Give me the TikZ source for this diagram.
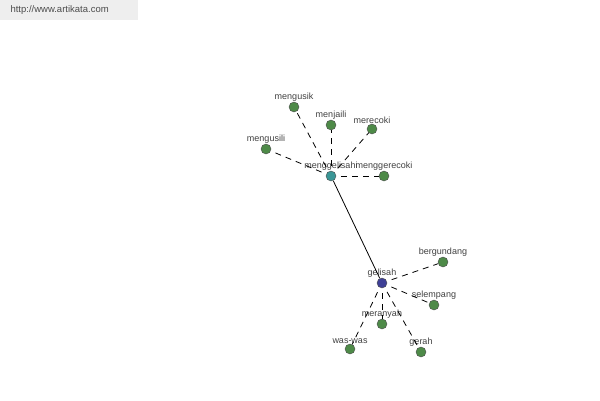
\documentclass[tikz,border=0pt]{standalone}
\usepackage{fontspec}
\setmainfont{Liberation Sans}
\usetikzlibrary{positioning}
\definecolor{leafgreen}{RGB}{78,138,72}
\definecolor{hubteal}{RGB}{58,150,150}
\definecolor{hubblue}{RGB}{62,64,150}
\definecolor{boxgray}{RGB}{238,238,238}

\begin{document}
\begin{tikzpicture}[x=1pt,y=-1pt,
  word/.style={circle,draw=black!70,fill=leafgreen,minimum size=10pt,inner sep=0pt,
    label distance=0pt,label={[font=\fontsize{9}{10}\selectfont,text=black!75,inner sep=0pt]above:#1}},
  hub/.style={word=#1,fill=hubteal},
  root/.style={word=#1,fill=hubblue},
  link/.style={dash pattern=on 6pt off 5pt,line width=0.8pt,shorten <=5pt}]
  \useasboundingbox (0,0) rectangle (600,400);
  \fill[boxgray] (0,0) rectangle (138,20);
  \node[anchor=west,text=black!70,font=\fontsize{9.5}{10}\selectfont] (site) at (7,10) {http://www.artikata.com};

  \node[hub=menggelisahi] (menggelisahi) at (331,176) {};
  \node[word=mengusik] (mengusik) at (294,107) {};
  \node[word=menjaili] (menjaili) at (331,125) {};
  \node[word=merecoki] (merecoki) at (372,129) {};
  \node[word=mengusili] (mengusili) at (266,149) {};
  \node[word=menggerecoki] (menggerecoki) at (384,176) {};

  \node[root=gelisah] (gelisah) at (382,283) {};
  \node[word=bergundang] (bergundang) at (443,262) {};
  \node[word=selempang] (selempang) at (434,305) {};
  \node[word=meranyah] (meranyah) at (382,324) {};
  \node[word=was-was] (waswas) at (350,349) {};
  \node[word=gerah] (gerah) at (421,352) {};

  \path[link]
    (menggelisahi) edge (mengusik)
                   edge (menjaili)
                   edge (merecoki)
                   edge (mengusili)
                   edge (menggerecoki)
    (gelisah) edge (bergundang)
              edge (selempang)
              edge (meranyah)
              edge (waswas)
              edge (gerah);
  \draw[line width=0.8pt] (menggelisahi) -- (gelisah);
\end{tikzpicture}
\end{document}
